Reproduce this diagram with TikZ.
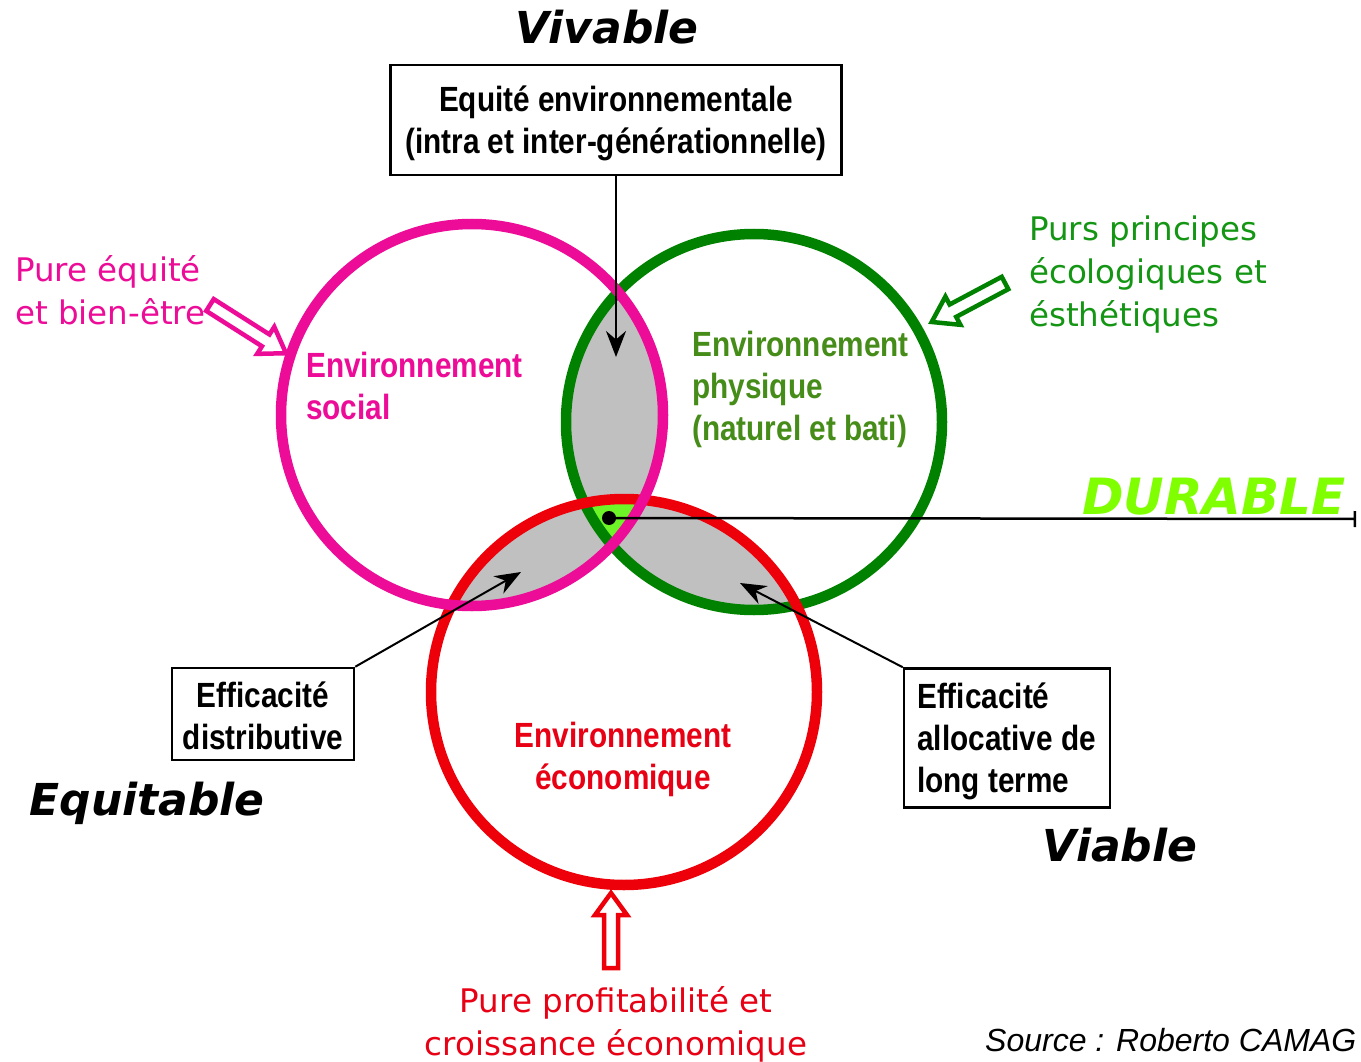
\documentclass[tikz,border=0pt]{standalone}
\usepackage{fontspec}
\usetikzlibrary{arrows.meta}
\newfontfamily\labfont[FakeStretch=0.85]{Liberation Sans}
\newfontfamily\dvfont{DejaVu Sans}
\newfontfamily\srcfont{Liberation Sans}
\definecolor{cpink}{RGB}{236,12,152}
\definecolor{cgreen}{RGB}{0,130,0}
\definecolor{cred}{RGB}{238,0,10}
\definecolor{cgray}{RGB}{192,192,192}
\definecolor{ctriple}{RGB}{110,245,40}
\definecolor{cdurable}{RGB}{128,255,0}
\definecolor{tgreen}{RGB}{70,140,25}
\definecolor{tgreen2}{RGB}{20,150,20}
\definecolor{tred}{RGB}{232,0,20}
\tikzset{
  ring/.style={line width=10.5pt},
  lab/.style={font=\labfont\bfseries\fontsize{35}{42}\selectfont, inner sep=0pt},
  plain/.style={font=\dvfont\fontsize{32.5}{43}\selectfont, inner sep=0pt},
  big/.style={font=\dvfont\bfseries\itshape\fontsize{44}{50}\selectfont, inner sep=0pt},
  boxed/.style={draw, line width=2.5pt, inner sep=0pt},
  blk/.style={line width=2pt, -{Stealth[length=26pt,width=20pt]}},
  pics/hollow/.style args={#1/#2/#3/#4}{code={
    \draw[line width=4.5pt, fill=white, line join=miter]
      (0,-#2) -- (#1-#4,-#2) -- (#1-#4,-#3) -- (#1,0) -- (#1-#4,#3) -- (#1-#4,#2) -- (0,#2) -- cycle;
  }}
}
\begin{document}
\begin{tikzpicture}[x=1pt,y=-1pt]
\useasboundingbox[fill=white] (0,0) rectangle (1361,1062);
% circle centres
\coordinate (P) at (472,415);
\coordinate (G) at (754,422);
\coordinate (R) at (624,692);
% lens fills
\begin{scope}\clip (P) circle (191); \fill[cgray] (G) circle (188); \end{scope}
\begin{scope}\clip (P) circle (191); \fill[cgray] (R) circle (193); \end{scope}
\begin{scope}\clip (G) circle (188); \fill[cgray] (R) circle (193); \end{scope}
\begin{scope}\clip (P) circle (191); \clip (G) circle (188); \fill[ctriple] (R) circle (193); \end{scope}
% circles
\draw[ring, cgreen] (G) circle (188);
\draw[ring, cred] (R) circle (193);
\draw[ring, cpink] (P) circle (191);
% circle labels
\node[lab, cpink, anchor=west, align=left] (socl) at (306,386) {Environnement\\social};
\node[lab, tgreen, anchor=west, align=left] (phys) at (692,389) {Environnement\\physique\\(naturel et bati)};
\node[lab, tred, align=center] (econ) at (623,759) {Environnement\\économique};
% boxes
\node[lab, boxed, align=center, minimum width=451pt, minimum height=110pt] (top) at (616,120) {};
\node[lab, align=center] (toptext) at (616,123) {Equité environnementale\\(intra et inter-générationnelle)};
\node[lab, boxed, align=center, minimum width=182pt, minimum height=92pt] (dist) at (263,714) {};
\node[lab, align=center] (disttext) at (263,716) {Efficacité\\distributive};
\node[lab, boxed, minimum width=206pt, minimum height=139pt] (alloc) at (1007,738) {};
\node[lab, align=left, anchor=west] (alloctext) at (917,741) {Efficacité\\allocative de\\long terme};
% black arrows
\coordinate (tipA) at (616,357);
\coordinate (tipB) at (521,572);
\coordinate (tipC) at (740,583);
\draw[blk] (top.south) -- (tipA);
\draw[blk] (dist.north east) -- (tipB);
\draw[blk] (alloc.north west) -- (tipC);
% durable
\coordinate (dot) at (609,518);
\coordinate (lineend) at (1356,519);
\draw[line width=2.5pt, -{Bar[width=16pt]}] (dot) -- (lineend);
\fill (dot) circle (7);
\node[big, cdurable, font=\dvfont\bfseries\itshape\fontsize{50}{56}\selectfont] (dur) at (1214,497) {DURABLE};
% big words
\node[big] (viv) at (607,27) {Vivable};
\node[big] (equ) at (147,803) {Equitable};
\node[big] (via) at (1120,845) {Viable};
% side texts
\node[plain, cpink, anchor=west, align=left] (pure) at (15,290) {Pure équité\\et bien-être};
\node[plain, tgreen2, anchor=west, align=left] (purs) at (1029,275) {Purs principes\\écologiques et\\ésthétiques};
\node[plain, tred, align=center] (prof) at (616,1024) {Pure profitabilité et\\croissance économique};
\node[font=\srcfont\itshape\fontsize{32}{36}\selectfont, anchor=west, inner sep=0pt] (src) at (985,1040) {Source : Roberto CAMAG};
% hollow arrows
\pic[cpink, rotate=-32.4] at (210,305) {hollow=90/7/16/24};
\pic[cgreen, rotate=208] at (1005,283) {hollow=83/7/16/24};
\pic[cred, rotate=90] at (611,968) {hollow=75/7/16/22};
\end{tikzpicture}
\end{document}
